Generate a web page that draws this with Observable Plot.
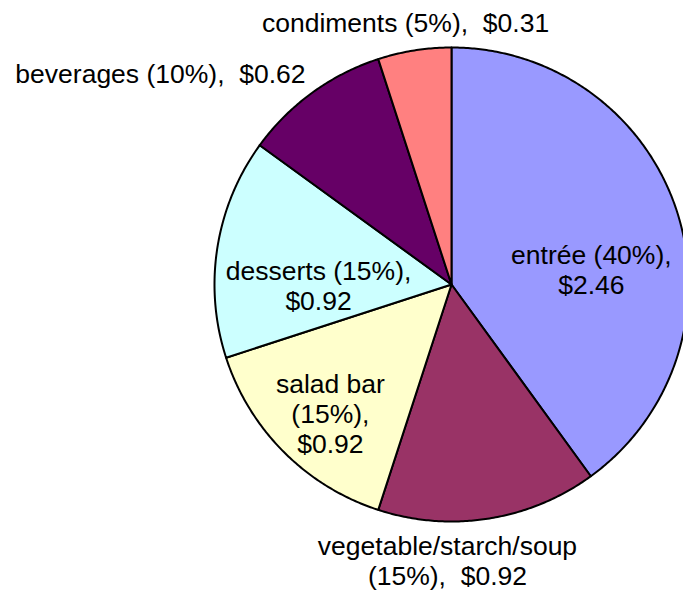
<!DOCTYPE html>
<html>
<head>
<meta charset="utf-8">
<script src="https://cdn.jsdelivr.net/npm/d3@7"></script>
<script src="https://cdn.jsdelivr.net/npm/@observablehq/plot@0.6"></script>
<style>
  html, body { margin: 0; padding: 0; background: #fff; }
  #chart svg { display: block; }
</style>
</head>
<body>
<div id="chart"></div>
<script>
// ---- data ----
const categories = ["entrée", "vegetable/starch/soup", "salad bar", "desserts", "beverages", "condiments"];
const percents = [40, 15, 15, 15, 10, 5];
const costs = [2.46, 0.92, 0.92, 0.92, 0.62, 0.31];
const colors = ["#9999FF", "#993366", "#FFFFCC", "#CCFFFF", "#660066", "#FF8080"];
// label line-break style per slice
const labelStyles = ["twoLineA", "twoLineB", "threeLine", "twoLineA", "oneLine", "oneLine"];
// label anchor points in pie units (radius = 1, centre = 0,0)
const labelX = [0.59, -0.017, -0.511, -0.561, -1.228, -0.194];
const labelY = [0.063, -1.165, -0.544, -0.004, 0.89, 1.105];

// ---- build slices ----
const total = d3.sum(percents);
const polys = [];
let cum = 0;
percents.forEach((p, i) => {
  const a0 = (cum / total) * 2 * Math.PI;
  cum += p;
  const a1 = (cum / total) * 2 * Math.PI;
  const n = Math.max(2, Math.ceil((a1 - a0) / (Math.PI / 360)));
  polys.push({cat: categories[i], color: colors[i], x: 0, y: 0});
  for (let k = 0; k <= n; k++) {
    const a = a0 + (a1 - a0) * k / n;
    polys.push({cat: categories[i], color: colors[i], x: Math.sin(a), y: Math.cos(a)});
  }
  polys.push({cat: categories[i], color: colors[i], x: 0, y: 0});
});

const SP = "\u00a0 ";
function labelText(i) {
  const c = categories[i], p = `(${percents[i]}%),`, v = `$${costs[i].toFixed(2)}`;
  switch (labelStyles[i]) {
    case "twoLineA": return `${c} ${p}\n${v}`;
    case "twoLineB": return `${c}\n${p}${SP}${v}`;
    case "threeLine": return `${c}\n${p}\n${v}`;
    default: return `${c} ${p}${SP}${v}`;
  }
}
const labels = categories.map((c, i) => ({x: labelX[i], y: labelY[i], text: labelText(i)}));

// ---- plot ----
const W = 683, H = 590, R = 237, CX = 451, CY = 284;
const chart = Plot.plot({
  width: W,
  height: H,
  margin: 0,
  style: {background: "#fff", fontFamily: "Arial, 'Liberation Sans', sans-serif"},
  x: {domain: [-CX / R, (W - CX) / R], axis: null},
  y: {domain: [-(H - CY) / R, CY / R], axis: null},
  color: {type: "identity"},
  marks: [
    Plot.line(polys, {
      x: "x", y: "y", z: "cat", fill: "color",
      stroke: "black", strokeWidth: 2, strokeLinejoin: "round", curve: "linear"
    }),
    Plot.text(labels, {
      x: "x", y: "y", text: "text",
      fontSize: 26.5, lineHeight: 1.12, fill: "black",
      fontFamily: "Arial, 'Liberation Sans', sans-serif"
    })
  ]
});
document.getElementById("chart").appendChild(chart);
</script>
</body>
</html>
